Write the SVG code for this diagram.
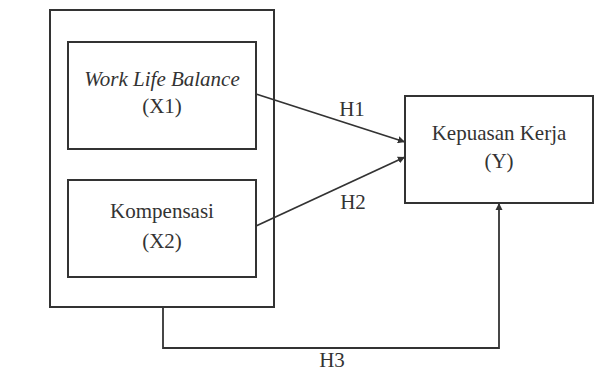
<svg xmlns="http://www.w3.org/2000/svg" width="611" height="374" viewBox="0 0 611 374">
<style>
.box{fill:#fff;stroke:#333;stroke-width:2}
.t{font-family:'Liberation Serif','DejaVu Serif',serif;font-size:21px;fill:#333;text-anchor:middle}
.i{font-style:italic}
.c{fill:none;stroke:#333;stroke-width:1.8}
</style>
<defs>
<marker id="ah" viewBox="0 0 10 10" refX="10" refY="5" markerWidth="4" markerHeight="4" orient="auto" markerUnits="strokeWidth">
<path d="M0,0 L10,5 L0,10 z" fill="#333"/>
</marker>
</defs>
<rect width="611" height="374" fill="#fff"/>
<g id="group">
<rect class="box" x="50" y="10" width="224" height="297"/>
</g>
<g id="x1">
<rect class="box" x="68" y="42" width="188" height="107"/>
<text class="t i" x="162" y="86">Work Life Balance</text>
<text class="t" x="162" y="113">(X1)</text>
</g>
<g id="x2">
<rect class="box" x="68" y="180" width="188" height="97"/>
<text class="t" x="162" y="218">Kompensasi</text>
<text class="t" x="162" y="248">(X2)</text>
</g>
<g id="y">
<rect class="box" x="405" y="96" width="188" height="107"/>
<text class="t" x="499" y="140">Kepuasan Kerja</text>
<text class="t" x="499" y="168">(Y)</text>
</g>
<g id="connectors">
<line class="c" x1="256" y1="94" x2="405" y2="142" marker-end="url(#ah)"/>
<line class="c" x1="256" y1="226" x2="405" y2="157" marker-end="url(#ah)"/>
<polyline class="c" points="163,307 163,348 499,348 499,203" marker-end="url(#ah)"/>
<text class="t" x="352" y="116">H1</text>
<text class="t" x="353" y="209">H2</text>
<text class="t" x="332" y="367">H3</text>
</g>
</svg>
